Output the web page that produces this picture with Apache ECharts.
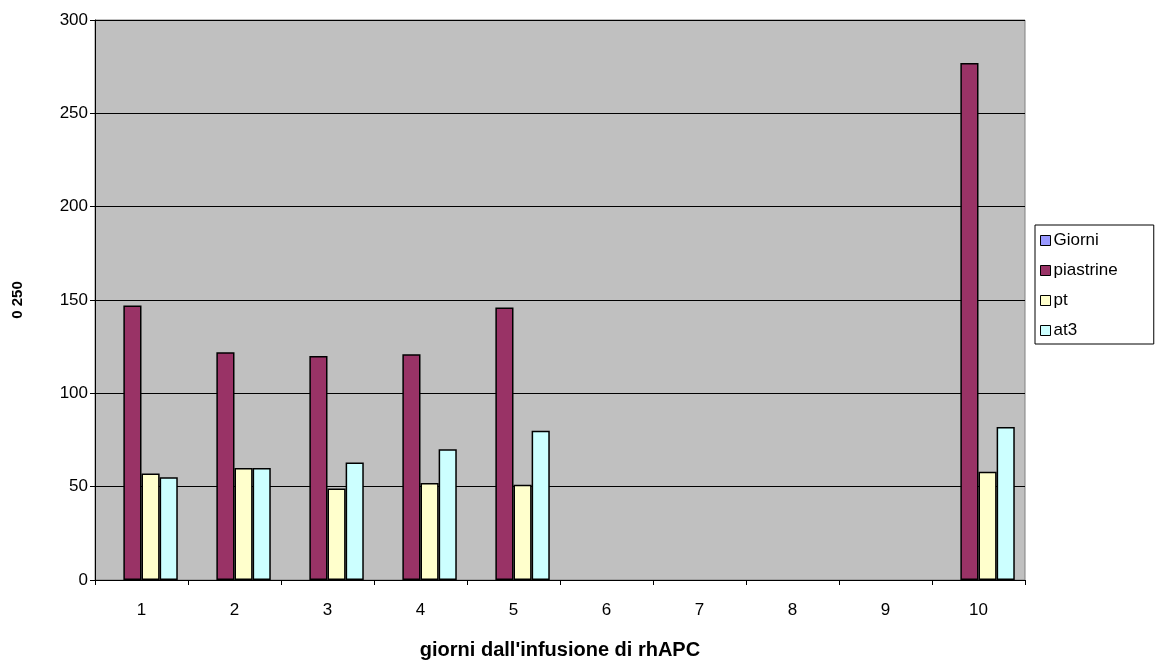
<!DOCTYPE html>
<html>
<head>
<meta charset="utf-8">
<script src="https://cdn.jsdelivr.net/npm/echarts@6/dist/echarts.min.js"></script>
<style>
  html, body { margin: 0; padding: 0; background: #fff; }
  #chart { width: 1156px; height: 661px; }
</style>
</head>
<body>
<div id="chart"></div>
<script>
// Days after rhAPC infusion
const days = ['1', '2', '3', '4', '5', '6', '7', '8', '9', '10'];
// Series values per day (null = not measured)
const giorni = [null, null, null, null, null, null, null, null, null, null];
const piastrine = [147, 122, 120, 121, 146, null, null, null, null, 277];
const pt = [57, 60, 49, 52, 51, null, null, null, null, 58];
const at3 = [55, 60, 63, 70, 80, null, null, null, null, 82];

const FONT = '"Liberation Sans", Arial, sans-serif';

const chart = echarts.init(document.getElementById('chart'));

function barSeries(name, data, color) {
  return {
    name: name,
    type: 'bar',
    data: data,
    barGap: '0%',
    barCategoryGap: '22%',
    itemStyle: { color: color, borderColor: '#000', borderWidth: 1.5 },
    emphasis: { disabled: true }
  };
}

chart.setOption({
  animation: false,
  textStyle: { fontFamily: FONT },
  grid: {
    left: 95, right: 131, top: 20, bottom: 81,
    outerBoundsMode: 'none',
    containLabel: false,
    show: true,
    backgroundColor: '#C0C0C0',
    borderColor: '#808080',
    borderWidth: 1
  },
  legend: {
    orient: 'vertical',
    left: 1035,
    top: 225,
    padding: [7, 36, 5, 5],
    itemGap: 13,
    itemWidth: 10,
    itemHeight: 10,
    icon: 'rect',
    borderColor: '#000',
    borderWidth: 1,
    backgroundColor: '#fff',
    textStyle: { fontFamily: FONT, fontSize: 17, color: '#000', padding: [0, 0, 0, -2] },
    itemStyle: { borderColor: '#000', borderWidth: 1 },
    data: ['Giorni', 'piastrine', 'pt', 'at3']
  },
  xAxis: {
    type: 'category',
    data: days,
    name: "giorni dall'infusione di rhAPC",
    nameLocation: 'middle',
    nameGap: 60,
    nameTextStyle: { fontFamily: FONT, fontSize: 20, fontWeight: 'bold', color: '#000' },
    axisLine: { show: true, lineStyle: { color: '#000', width: 1 } },
    axisTick: { show: true, length: 5, lineStyle: { color: '#000' }, alignWithLabel: false },
    axisLabel: { fontFamily: FONT, fontSize: 17, color: '#000', margin: 22 },
    splitLine: { show: false }
  },
  yAxis: {
    type: 'value',
    min: 0, max: 300, interval: 50,
    name: '0 250',
    nameLocation: 'middle',
    nameGap: 70,
    nameRotate: 90,
    nameTextStyle: { fontFamily: FONT, fontSize: 15, fontWeight: 'bold', color: '#000' },
    axisLine: { show: true, lineStyle: { color: '#000', width: 1 } },
    axisTick: { show: true, length: 5, lineStyle: { color: '#000' } },
    axisLabel: { fontFamily: FONT, fontSize: 17, color: '#000', margin: 7 },
    splitLine: { show: true, lineStyle: { color: '#000', width: 1 } }
  },
  series: [
    barSeries('Giorni', giorni, '#9999FF'),
    barSeries('piastrine', piastrine, '#993366'),
    barSeries('pt', pt, '#FFFFCC'),
    barSeries('at3', at3, '#CCFFFF')
  ]
});
</script>
</body>
</html>
